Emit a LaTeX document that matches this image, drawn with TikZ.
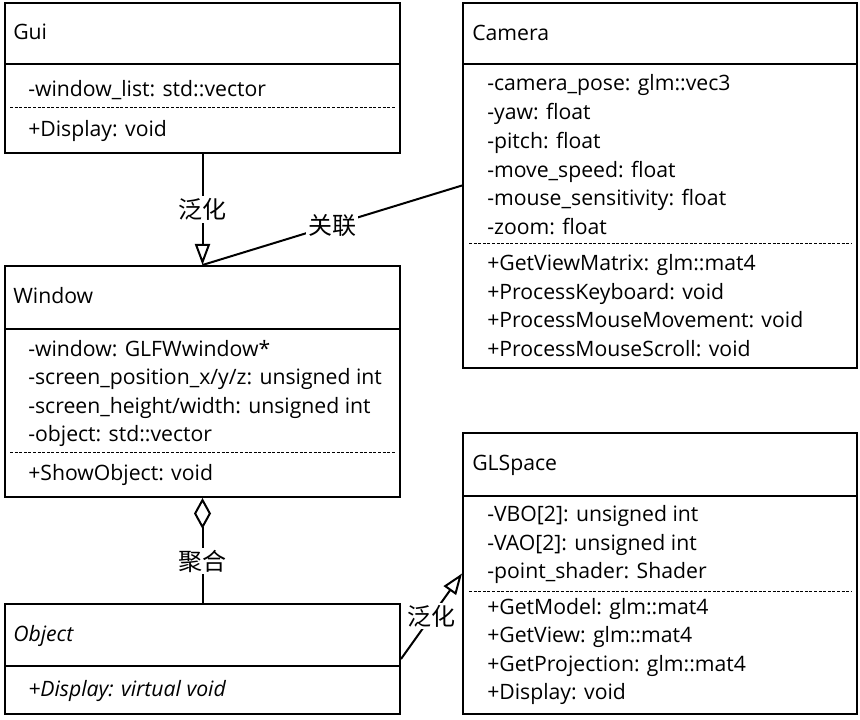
\documentclass[tikz,border=0pt]{standalone}
\usepackage{fontspec}
\setmainfont{Open Sans}
\newfontfamily\cjk{Noto Sans CJK SC}
\usetikzlibrary{arrows.meta}

\begin{document}
\begin{tikzpicture}[x=0.75pt,y=-0.75pt,
	generalize/.style={-{Triangle[open,length=15.75pt,width=11.25pt]}},
	aggregate/.style={{Diamond[open,length=23.25pt,width=12.75pt]}-},
	rellabel/.style={fill=white,inner sep=1.5pt,font=\cjk\fontsize{18}{20}\selectfont}]
	\useasboundingbox (0,0) rectangle (860,720);

	\begin{scope}[every node/.style={rectangle,draw,line width=1.5pt,inner sep=0}]
	    \node[minimum width=296.25pt,minimum height=112.5pt] (gui) at (202.5,78) {};
	    \node[minimum width=295.5pt,minimum height=273.75pt] (camera) at (660,185.5) {};
	    \node[minimum width=296.25pt,minimum height=173.25pt] (window) at (202.5,381.5) {};
	    \node[minimum width=295.5pt,minimum height=210.75pt] (glspace) at (660,573.5) {};
	    \node[minimum width=296.25pt,minimum height=82.5pt] (object) at (202.5,659) {};
	\end{scope}

	% compartments
	\begin{scope}[line width=1.5pt]
	    \draw (gui.west |- 0,64) -- (gui.east |- 0,64);
	    \draw (camera.west |- 0,64) -- (camera.east |- 0,64);
	    \draw (window.west |- 0,329) -- (window.east |- 0,329);
	    \draw (glspace.west |- 0,496) -- (glspace.east |- 0,496);
	    \draw (object.west |- 0,666) -- (object.east |- 0,666);
	\end{scope}
	\begin{scope}[line width=0.75pt,dash pattern=on 2.25pt off 1.2pt]
	    \draw (10,108) -- (395,108);
	    \draw (469,244) -- (852,244);
	    \draw (10,452) -- (395,452);
	    \draw (469,591) -- (852,591);
	\end{scope}

	\begin{scope}[every node/.style={anchor=base west,inner sep=0,font=\fontsize{15.9}{18}\selectfont}]
	    \node (guiname) at (13,40) {Gui};
	    \node (guiattr) at (28,96.7) {-window\_list: std::vector};
	    \node (guiop) at (28,136.7) {+Display: void};

	    \node (camname) at (472,40.7) {Camera};
	    \foreach \txt [count=\i] in {-camera\_pose: glm::vec3, -yaw: float, -pitch: float,
	        -move\_speed: float, -mouse\_sensitivity: float, -zoom: float}
	        \node (camattr\i) at (487,{91+28.7*(\i-1)}) {\txt};
	    \foreach \txt [count=\i] in {+GetViewMatrix: glm::mat4, +ProcessKeyboard: void,
	        +ProcessMouseMovement: void, +ProcessMouseScroll: void}
	        \node (camop\i) at (487,{270.7+28.6*(\i-1)}) {\txt};

	    \node (winname) at (13,304) {Window};
	    \foreach \txt [count=\i] in {-window: GLFWwindow*, -screen\_position\_x/y/z: unsigned int,
	        -screen\_height/width: unsigned int, -object: std::vector}
	        \node (winattr\i) at (28,{356+28.6*(\i-1)}) {\txt};
	    \node (winop) at (28,480) {+ShowObject: void};

	    \node (glname) at (472,470) {GLSpace};
	    \foreach \txt [count=\i] in {-VBO[2]: unsigned int, -VAO[2]: unsigned int,
	        -point\_shader: Shader}
	        \node (glattr\i) at (487,{521.7+28.6*(\i-1)}) {\txt};
	    \foreach \txt [count=\i] in {+GetModel: glm::mat4, +GetView: glm::mat4,
	        +GetProjection: glm::mat4, +Display: void}
	        \node (glop\i) at (487,{614+28.6*(\i-1)}) {\txt};

	    \node[font=\fontsize{15.9}{18}\selectfont\itshape] (objname) at (13,641.7) {Object};
	    \node[font=\fontsize{15.9}{18}\selectfont\itshape] (objop) at (28,696) {+Display: virtual void};
	\end{scope}

	% relations
	\begin{scope}[line width=1.5pt]
	    \draw[generalize] (gui) -- node[rellabel] {泛化} (window);
	    \draw (camera.west) -- node[rellabel] {关联} (window.north);
	    \draw[aggregate] (window) -- node[rellabel,pos=0.6] {聚合} (object);
	    \draw[generalize] (object.east) -- node[rellabel] {泛化} (glspace.west);
	\end{scope}
\end{tikzpicture}
\end{document}
